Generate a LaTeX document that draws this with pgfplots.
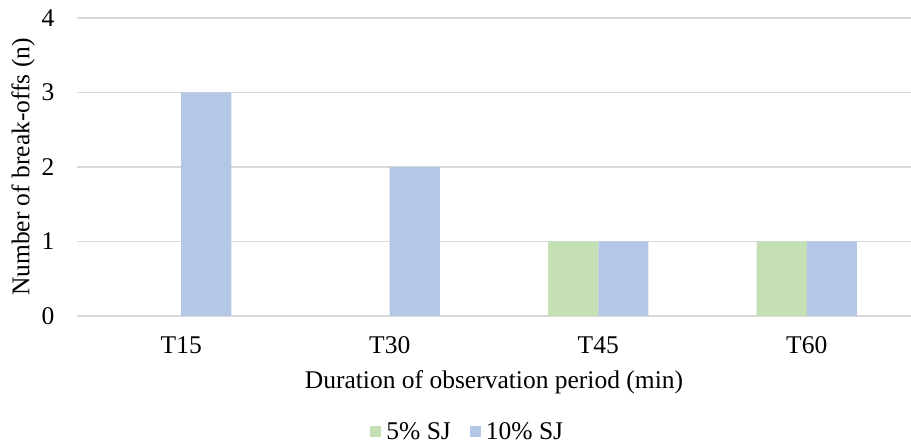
\documentclass[border=0pt]{standalone}
\usepackage{pgfplots}
\pgfplotsset{compat=1.18}
\usepackage{fontspec}
\setmainfont{Liberation Serif}
\definecolor{gA}{HTML}{C5E0B4}
\definecolor{bA}{HTML}{B4C7E7}
\definecolor{gridc}{HTML}{D9D9D9}
\newcommand{\fs}{\fontsize{25.5}{30}\selectfont}
\begin{document}
\begin{tikzpicture}[x=1pt,y=1pt]
\useasboundingbox (-77,-130) rectangle (834,316);
\begin{axis}[
  at={(0,0)}, anchor=south west,
  scale only axis, width=834pt, height=298pt,
  xmin=-0.5, xmax=3.5, ymin=0, ymax=4,
  ybar=0pt, bar width=0.24,
  xtick={0,1,2,3}, xticklabels={T15,T30,T45,T60},
  ytick={0,1,2,3,4},
  ymajorgrids, grid style={gridc, line width=1.2pt},
  axis x line*=bottom, axis y line*=left,
  x axis line style={gridc, line width=1.5pt, -},
  y axis line style={draw=none},
  major tick length=0pt,
  tick style={draw=none},
  xticklabel style={font=\fs, anchor=center, yshift=-29pt},
  yticklabel style={font=\fs, anchor=center, xshift=-29pt},
  /pgf/number format/assume math mode=true,
  xlabel={Duration of observation period (min)},
  ylabel={Number of break-offs (n)},
  label style={font=\fs},
  xlabel style={at={(axis description cs:0.5,0)}, anchor=center, yshift=-66pt},
  ylabel style={at={(axis description cs:0,0.5)}, anchor=center, yshift=54pt},
  clip=false,
  legend columns=2,
  legend style={draw=none, fill=none, at={(rel axis cs:0.468,0)}, anchor=center, yshift=-116pt,
    font=\fs, inner sep=0pt,
    /tikz/every even column/.append style={column sep=18pt},
    nodes={inner sep=1pt}},
  legend image code/.code={\fill[#1] (0pt,-5.5pt) rectangle (11pt,5.5pt); \path (0pt,0pt) -- (15pt,0pt);},
]
\addplot[draw=none, fill=gA] coordinates {(2,1) (3,1)};
\addplot[draw=none, fill=bA] coordinates {(0,3) (1,2) (2,1) (3,1)};
\legend{5\% SJ, 10\% SJ}
\end{axis}
\end{tikzpicture}
\end{document}
